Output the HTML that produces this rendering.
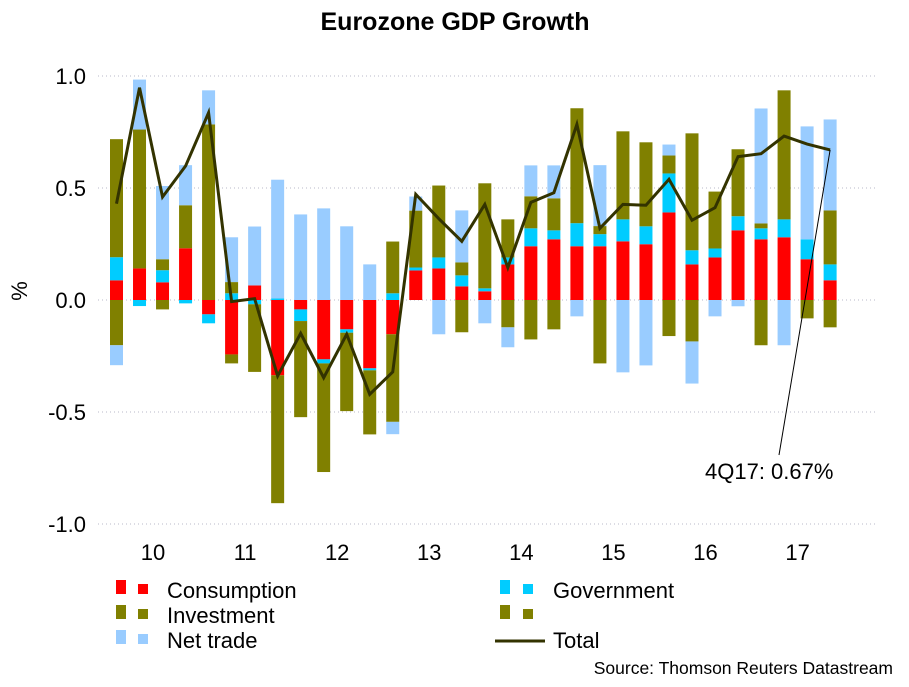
<!DOCTYPE html>
<html><head><meta charset="utf-8"><style>
body{margin:0;background:#fff;width:909px;height:682px;overflow:hidden;font-family:"Liberation Sans",Arial,sans-serif}
</style></head><body>
<svg id="chart" width="909" height="682" viewBox="0 0 909 682" xmlns="http://www.w3.org/2000/svg" font-family="Liberation Sans, Arial, sans-serif">
<text x="455" y="30" text-anchor="middle" font-size="25" font-weight="bold">Eurozone GDP Growth</text>
<text x="20" y="298" text-anchor="middle" font-size="22" transform="rotate(-90 20 291)">%</text>
<g id="grid"></g><g id="bars"></g><g id="line"></g><g id="labels"></g>
<line id="leader" x1="830" y1="150" x2="779" y2="455" stroke="#000" stroke-width="1"/>
<text x="705" y="479" font-size="22">4Q17: 0.67%</text>
<g font-size="22">
<rect x="116" y="580" width="10" height="14" fill="#ff0000"/><rect x="138" y="584" width="10" height="10" fill="#ff0000"/>
<text x="167" y="598">Consumption</text>
<rect x="116" y="605" width="10" height="14" fill="#808000"/><rect x="138" y="609" width="10" height="10" fill="#808000"/>
<text x="167" y="623">Investment</text>
<rect x="116" y="630" width="10" height="14" fill="#99ccff"/><rect x="138" y="634" width="10" height="10" fill="#99ccff"/>
<text x="167" y="648">Net trade</text>
<rect x="500" y="580" width="10" height="14" fill="#00ccff"/><rect x="523" y="584" width="10" height="10" fill="#00ccff"/>
<text x="553" y="598">Government</text>
<rect x="500" y="605" width="10" height="14" fill="#808000"/><rect x="523" y="609" width="10" height="10" fill="#808000"/>
<line x1="495" y1="641" x2="545" y2="641" stroke="#333300" stroke-width="3"/>
<text x="553" y="648">Total</text>
</g>
<text x="893" y="674" text-anchor="end" font-size="17.5">Source: Thomson Reuters Datastream</text>
</svg>
<script>
const years=["10","11","12","13","14","15","16","17"];
const yTicks=[1.0,0.5,0.0,-0.5,-1.0];
const consumption=[0.088,0.141,0.079,0.231,-0.064,-0.243,0.065,-0.336,-0.042,-0.265,-0.131,-0.305,-0.153,0.132,0.141,0.061,0.039,0.159,0.24,0.271,0.24,0.24,0.262,0.249,0.391,0.159,0.19,0.311,0.271,0.28,0.182,0.088];
const government=[0.103,-0.027,0.054,-0.015,-0.040,0.03,-0.019,0.007,-0.052,-0.018,-0.015,-0.009,0.03,0.013,0.049,0.049,0.013,0.031,0.08,0.04,0.103,0.054,0.098,0.08,0.174,0.063,0.04,0.063,0.049,0.08,0.089,0.071];
const investment=[0.527,0.62,0.049,0.192,0.784,0.05,-0.302,-0.571,-0.429,-0.485,-0.35,-0.286,0.231,0.254,0.321,0.058,0.469,0.17,0.143,0.143,0.513,0.036,0.393,0.375,0.08,0.522,0.254,0.299,0.022,0.576,0,0.241];
const inventories=[-0.202,0,-0.042,0,0,-0.04,0,0,0,0,0,0,-0.391,0,0,-0.144,0,-0.122,-0.176,-0.131,0,-0.283,0,0,-0.161,-0.185,0,0,-0.202,0,-0.082,-0.122];
const netTrade=[-0.089,0.223,0.327,0.179,0.152,0.2,0.263,0.53,0.382,0.409,0.329,0.159,-0.055,0.063,-0.153,0.232,-0.104,-0.089,0.138,0.147,-0.073,0.272,-0.323,-0.292,0.049,-0.188,-0.073,-0.028,0.513,-0.202,0.504,0.406];
const total=[0.43,0.948,0.46,0.598,0.836,-0.007,0.006,-0.339,-0.149,-0.347,-0.153,-0.421,-0.321,0.472,0.363,0.262,0.427,0.145,0.436,0.479,0.784,0.32,0.427,0.423,0.539,0.356,0.412,0.64,0.653,0.732,0.696,0.67];
const NS="http://www.w3.org/2000/svg";
const X0=116.5,DX=23.02,Y0=300,SC=224,BW=13;
const xs=i=>X0+i*DX, ys=v=>Y0-v*SC;
function mk(t,a,p){const e=document.createElementNS(NS,t);for(const k in a)e.setAttribute(k,a[k]);p.appendChild(e);return e;}
const grid=document.getElementById('grid'),labels=document.getElementById('labels');
yTicks.forEach(t=>{
 const l=mk('line',{x1:98,x2:878,y1:ys(t),y2:ys(t),stroke:'#b8b8c8','stroke-width':1,'stroke-dasharray':'1 3'},grid);
 
 
 const tx=mk('text',{x:86,y:ys(t)+8,'text-anchor':'end','font-size':22},labels);
 
 
 tx.textContent=t.toFixed(1);
});
years.forEach((y,i)=>{
 const tx=mk('text',{x:(xs(i*4)+xs(i*4+3))/2+2,y:560,'text-anchor':'middle','font-size':22},labels);
 
 
 tx.textContent=y;
});
const series=[[consumption,'#ff0000','consumption'],[government,'#00ccff','government'],[investment,'#808000','investment'],[inventories,'#808000','inventories'],[netTrade,'#99ccff','net-trade']];
const bars=document.getElementById('bars');
total.forEach((_,i)=>{
 let pos=0,neg=0;
 series.forEach(([arr,col,nm])=>{
  const v=arr[i]; if(!v)return;
  let a,b; if(v>0){a=pos;b=pos+v;pos=b;}else{a=neg;b=neg+v;neg=b;}
  const r=mk('rect',{x:xs(i)-BW/2,y:ys(Math.max(a,b)),width:BW,height:Math.abs(b-a)*SC,fill:col},bars);
  
  
 });
});
const pl=mk('polyline',{points:total.map((v,i)=>xs(i)+','+ys(v)).join(' '),fill:'none',stroke:'#333300','stroke-width':3,'stroke-linejoin':'miter'},document.getElementById('line'));


const ld=document.getElementById('leader');ld.setAttribute('x1',xs(total.length-1));ld.setAttribute('y1',ys(total[total.length-1]));
</script>
</body></html>
